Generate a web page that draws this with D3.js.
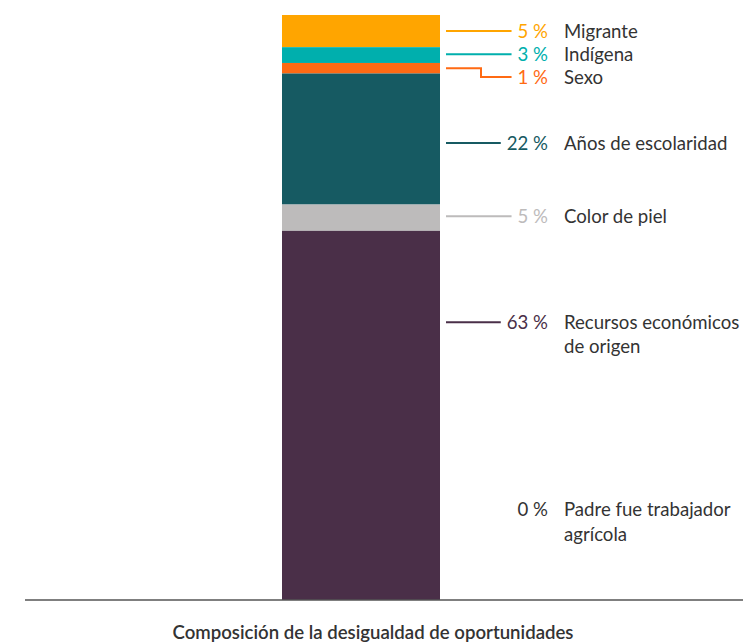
<!DOCTYPE html>
<html><head><meta charset="utf-8">
<script src="https://cdn.jsdelivr.net/npm/d3@7"></script>
<style>
html,body{margin:0;padding:0;background:#fff;}
text{font-family:Lato,"Open Sans",sans-serif;}
</style></head>
<body>
<svg id="chart" width="743" height="643"></svg>
<script>
// Data (top to bottom of the stacked bar)
const categories = ["Migrante","Indígena","Sexo","Años de escolaridad","Color de piel","Recursos económicos de origen","Padre fue trabajador agrícola"];
const nameLines = [["Migrante"],["Indígena"],["Sexo"],["Años de escolaridad"],["Color de piel"],["Recursos económicos","de origen"],["Padre fue trabajador","agrícola"]];
const values = [5.5, 2.7, 1.8, 22.4, 4.5, 63.1, 0];
const valueLabels = ["5 %","3 %","1 %","22 %","5 %","63 %","0 %"];
const colors = ["#FFA500","#00AFAD","#FF6A13","#165A62","#BDBBBB","#4A2F48","#4A2F48"];
const valueColors = ["#FFA500","#00AFAD","#FF6A13","#165A62","#BDBBBB","#4A2F48","#333333"];
// label anchor positions, in the same percentage units as the bar (measured from the top)
const labelAt = [2.75, 6.7, 10.6, 21.9, 34.4, 52.5, 84.6];
const xTitle = "Composición de la desigualdad de oportunidades";

const svg = d3.select("#chart");
const margin = {top:15, bottom:43, left:25, right:0};
const W = 743, H = 643;
const FS = 18.6;

const x = d3.scaleBand().domain(["bar"]).range([282, 440]).padding(0);
const y = d3.scaleLinear().domain([0, 100]).range([margin.top, H - margin.bottom]);

// cumulative stack from top
let acc = 0;
const segs = values.map((v,i) => { const s = {i, y0: acc, y1: acc + v, v}; acc += v; return s; });

svg.append("g").selectAll("rect").data(segs.filter(d => d.v > 0)).join("rect")
  .attr("x", x("bar"))
  .attr("width", x.bandwidth())
  .attr("y", d => y(d.y0))
  .attr("height", d => y(d.y1) - y(d.y0))
  .attr("fill", d => colors[d.i]);

// baseline
svg.append("line")
  .attr("x1", margin.left).attr("x2", W)
  .attr("y1", y(100)).attr("y2", y(100))
  .attr("stroke", "#555").attr("stroke-width", 1.5);

// labels
const valueRight = 548, nameLeft = 564, lineStart = x("bar") + x.bandwidth() + 6, elbowX = 481;
const lg = svg.append("g");
segs.forEach(d => {
  const ly = y(labelAt[d.i]);
  const vt = lg.append("text")
    .attr("x", valueRight).attr("y", ly).attr("dy", "0.35em")
    .attr("text-anchor", "end")
    .attr("font-size", FS)
    .attr("fill", valueColors[d.i])
    .text(valueLabels[d.i]);
  const tw = vt.node().getComputedTextLength();
  const lineEnd = valueRight - tw - 6;
  if (d.v > 0) {
    const top = y(d.y0), bot = y(d.y1);
    let path;
    if (ly >= top && ly <= bot) {
      path = `M${lineStart},${ly}H${lineEnd}`;
    } else {
      const c = (top + bot) / 2;
      path = `M${lineStart},${c}H${elbowX}V${ly}H${lineEnd}`;
    }
    lg.append("path").attr("d", path).attr("fill", "none")
      .attr("stroke", colors[d.i]).attr("stroke-width", 2);
  }
  const nt = lg.append("text")
    .attr("x", nameLeft).attr("y", ly)
    .attr("font-size", FS).attr("fill", "#333");
  nameLines[d.i].forEach((t, k) => {
    nt.append("tspan").attr("x", nameLeft).attr("dy", k === 0 ? "0.35em" : "1.3em").text(t);
  });
});

// axis title
svg.append("text")
  .attr("x", 373).attr("y", 632).attr("dy", "0.35em")
  .attr("text-anchor", "middle")
  .attr("font-size", 18.6).attr("font-weight", 600).attr("fill", "#333")
  .text(xTitle);
</script>
</body></html>
